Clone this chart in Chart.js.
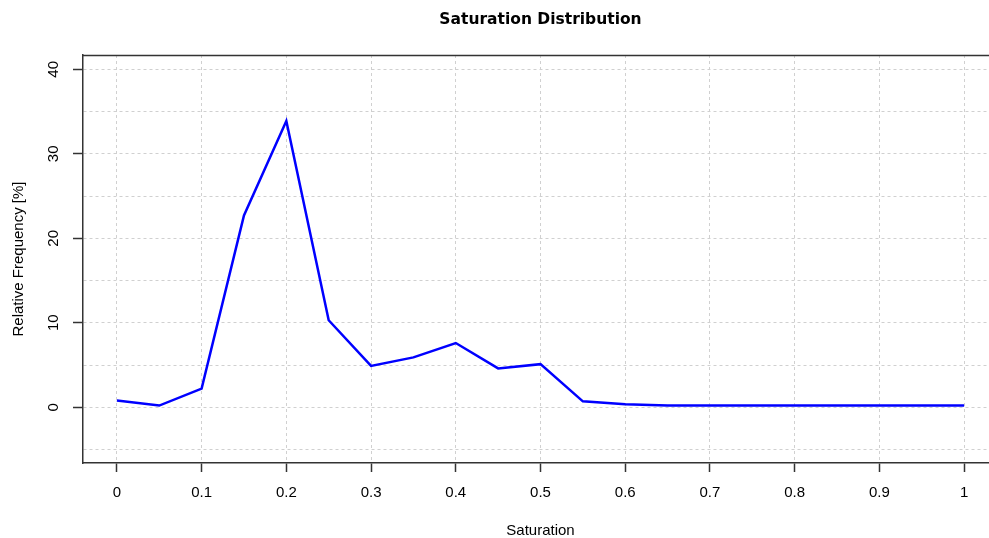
<!DOCTYPE html>
<html>
<head>
<meta charset="utf-8">
<script src="https://cdn.jsdelivr.net/npm/chart.js@4"></script>
<style>
  html, body { margin: 0; padding: 0; background: #fff; overflow: hidden; }
  #wrap { width: 1000px; height: 538px; }
</style>
</head>
<body>
<div id="wrap"><canvas id="grafico"></canvas></div>
<script>
// data
const saturation = [0, 0.05, 0.1, 0.15, 0.2, 0.25, 0.3, 0.35, 0.4, 0.45, 0.5,
                    0.55, 0.6, 0.65, 0.7, 0.75, 0.8, 0.85, 0.9, 0.95, 1];
const frequency = [0.8, 0.2, 2.2, 22.7, 33.9, 10.3, 4.9, 5.9, 7.6, 4.6, 5.1,
                   0.7, 0.35, 0.2, 0.2, 0.2, 0.2, 0.2, 0.2, 0.2, 0.2];
const xTickLabels = ["0", "0.1", "0.2", "0.3", "0.4", "0.5", "0.6", "0.7", "0.8", "0.9", "1"];
const yTickLabels = ["0", "10", "20", "30", "40"];

const axisColor = "#333333";
const gridColor = "#d0d0d0";
const labelFont = { family: "'Liberation Sans', Arial, sans-serif", size: 15 };

// R style box: draw the top edge too
const topBorder = {
    id: "topBorder",
    afterDraw(chart) {
        const { ctx, chartArea } = chart;
        ctx.save();
        ctx.strokeStyle = axisColor;
        ctx.lineWidth = 1.5;
        ctx.beginPath();
        ctx.moveTo(chartArea.left, Math.round(chartArea.top) + 0.5);
        ctx.lineTo(chartArea.right, Math.round(chartArea.top) + 0.5);
        ctx.stroke();
        ctx.restore();
    }
};

const pontos = saturation.map((s, i) => ({ x: s, y: frequency[i] }));

new Chart(document.getElementById("grafico"), {
    type: "line",
    data: {
        datasets: [{
            data: pontos,
            borderColor: "#0000ff",
            borderWidth: 2.5,
            pointRadius: 0,
            tension: 0,
            fill: false
        }]
    },
    options: {
        responsive: true,
        maintainAspectRatio: false,
        animation: false,
        layout: { padding: { top: 0, left: 0, bottom: 0, right: 2 } },
        plugins: {
            legend: { display: false },
            tooltip: { enabled: false },
            title: {
                display: true,
                text: "Saturation Distribution",
                fullSize: false,
                color: "#000",
                font: { family: "'DejaVu Sans', Verdana, sans-serif", size: 15.5, weight: "bold", lineHeight: 1.2 },
                padding: { top: 11, bottom: 25.4 }
            }
        },
        scales: {
            x: {
                type: "linear",
                min: -0.04,
                max: 1.04,
                afterFit: s => { s.height = 75; },
                ticks: {
                    stepSize: 0.1,
                    includeBounds: false,
                    autoSkip: false,
                    maxRotation: 0,
                    padding: 12,
                    color: "#000",
                    font: labelFont,
                    callback: v => {
                        const i = Math.round(v * 10);
                        return Math.abs(v * 10 - i) < 1e-6 ? (xTickLabels[i] ?? "") : "";
                    }
                },
                grid: {
                    color: gridColor,
                    lineWidth: 1,
                    tickLength: 9,
                    tickColor: axisColor,
                    tickWidth: 1.5
                },
                border: { display: true, color: axisColor, width: 1.5, dash: [3, 3] },
                title: {
                    display: true,
                    text: "Saturation",
                    color: "#000",
                    font: { ...labelFont, lineHeight: 1 },
                    padding: { top: 0, bottom: 0 }
                }
            },
            y: {
                min: -6.6,
                max: 41.7,
                afterFit: s => { s.width = 83; },
                ticks: {
                    stepSize: 5,
                    includeBounds: false,
                    autoSkip: false,
                    minRotation: 90,
                    maxRotation: 90,
                    crossAlign: "center",
                    padding: 11,
                    color: "#000",
                    font: labelFont,
                    callback: v => yTickLabels.includes(String(v)) ? String(v) : ""
                },
                grid: {
                    color: gridColor,
                    lineWidth: 1,
                    tickLength: 10,
                    tickWidth: 1.5,
                    tickColor: c => (c.tick && c.tick.value % 10 === 0) ? axisColor : "rgba(0,0,0,0)"
                },
                border: { display: true, color: axisColor, width: 1.5, dash: [3, 3] },
                title: {
                    display: true,
                    text: "Relative Frequency [%]",
                    color: "#000",
                    font: { ...labelFont, lineHeight: 1.2 },
                    padding: { top: 10, bottom: 0 }
                }
            }
        }
    },
    plugins: [topBorder]
});
</script>
</body>
</html>
